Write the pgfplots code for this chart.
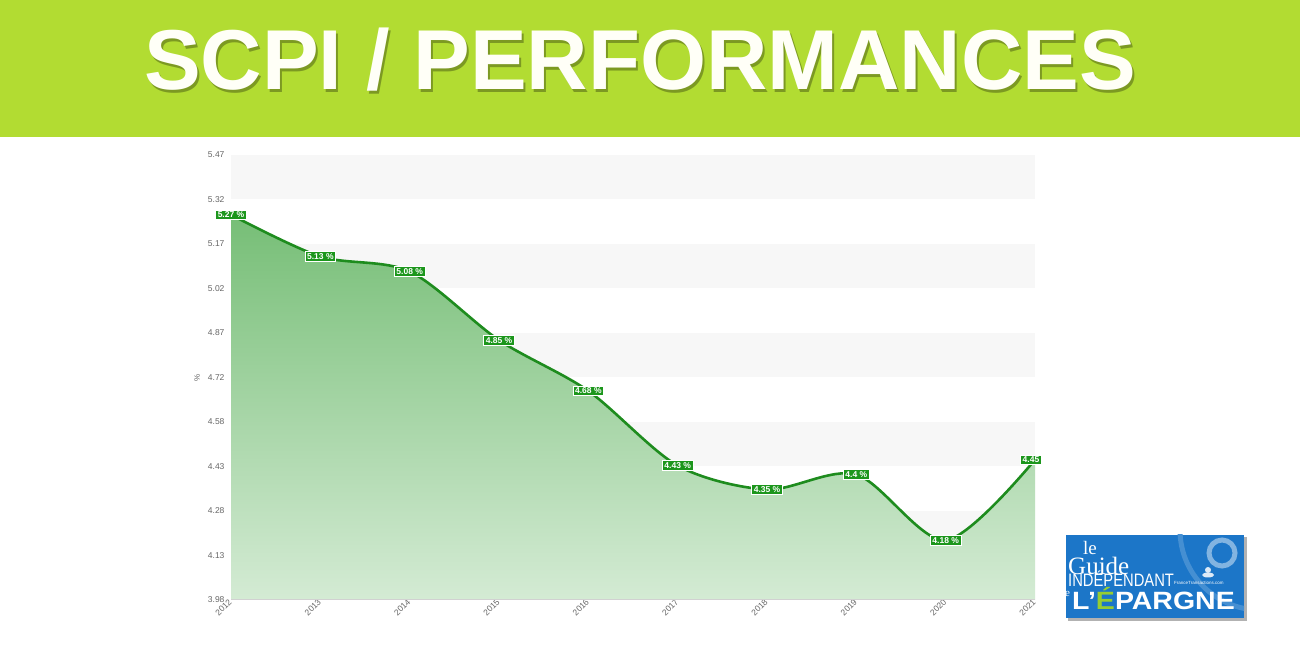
\documentclass[border=0pt]{standalone}
\usepackage{pgfplots}
\pgfplotsset{compat=1.18}
\usepackage{fontspec}
\setmainfont{Liberation Sans}
\newfontfamily\seriff{Liberation Serif}
\definecolor{banner}{RGB}{178,220,50}
\definecolor{linegreen}{RGB}{30,140,30}
\definecolor{boxgreen}{RGB}{28,150,28}
\definecolor{fillTop}{RGB}{118,190,118}
\definecolor{fillBot}{RGB}{212,235,212}
\definecolor{bandgray}{RGB}{247,247,247}
\definecolor{labelgray}{RGB}{102,102,102}
\definecolor{logoblue}{RGB}{28,118,200}
\definecolor{logogreen}{RGB}{150,205,50}
\pgfplotstableread{
x y
0 5.27
1 5.13
2 5.08
3 4.85
4 4.68
5 4.43
6 4.35
7 4.40
8 4.18
9 4.45
}\scpi
\pgfplotstableread{
x y
0 5.27
1 5.13
2 5.08
3 4.85
4 4.68
5 4.43
6 4.35
7 4.40
8 4.18
}\scpilab
\pgfplotstableread{
x y
9 4.45
}\scpilast
\begin{document}
\begin{tikzpicture}[x=1pt,y=1pt]
\fill[white] (0,0) rectangle (1300,650);
\fill[banner] (0,513) rectangle (1300,650);
\node[anchor=base, text=black, opacity=0.3, font=\fontsize{85}{85}\selectfont\bfseries] at (642,557.5) {SCPI / PERFORMANCES};
\node[anchor=base, text=white!97!yellow, font=\fontsize{85}{85}\selectfont\bfseries] at (640,560) {SCPI / PERFORMANCES};
\begin{axis}[
  at={(231pt,50pt)}, anchor=south west,
  scale only axis, width=804pt, height=445pt,
  xmin=0, xmax=9, ymin=3.98, ymax=5.47,
  axis line style={draw=none},
  tick style={draw=none}, major tick length=0pt,
  xtick={0,...,9},
  xticklabels={2012,2013,2014,2015,2016,2017,2018,2019,2020,2021},
  ytick={3.98,4.129,4.278,4.427,4.576,4.725,4.874,5.023,5.172,5.321,5.47},
  yticklabels={3.98,4.13,4.28,4.43,4.58,4.72,4.87,5.02,5.17,5.32,5.47},
  /pgf/number format/assume math mode=true,
  ticklabel style={font=\fontsize{8.5}{9}\selectfont, text=labelgray},
  xticklabel style={rotate=45, anchor=east, inner sep=1pt},
  yticklabel style={xshift=-3pt},
  clip=false,
]
\fill[bandgray] (axis cs:0,5.321) rectangle (axis cs:9,5.47);
\fill[bandgray] (axis cs:0,5.023) rectangle (axis cs:9,5.172);
\fill[bandgray] (axis cs:0,4.725) rectangle (axis cs:9,4.874);
\fill[bandgray] (axis cs:0,4.427) rectangle (axis cs:9,4.576);
\fill[bandgray] (axis cs:0,4.129) rectangle (axis cs:9,4.278);
\addplot[draw=none, top color=fillTop, bottom color=fillBot, smooth, tension=0.5] table[x=x,y=y] {\scpi} -- (axis cs:9,3.98) -- (axis cs:0,3.98) -- cycle;
\draw[black!18, line width=1pt] (axis cs:0,3.98) -- (axis cs:9,3.98);
\addplot[linegreen, line width=2.6pt, smooth, tension=0.5, mark=none] table[x=x,y=y] {\scpi};
\addplot[draw=none, mark=none, point meta=y,
  nodes near coords={\pgfmathprintnumber[fixed,precision=2,assume math mode=true]{\pgfplotspointmeta}~\%},
  every node near coord/.append style={anchor=center, fill=boxgreen, draw=white, line width=0.6pt, text=white, font=\fontsize{8.5}{8.5}\selectfont\bfseries, inner xsep=2.2pt, inner ysep=1.8pt}]
  table[x=x,y=y] {\scpilab};
\addplot[draw=none, mark=none, point meta=y,
  nodes near coords={\pgfmathprintnumber[fixed,precision=2,assume math mode=true]{\pgfplotspointmeta}},
  every node near coord/.append style={anchor=center, xshift=-4pt, fill=boxgreen, draw=white, line width=0.6pt, text=white, font=\fontsize{8.5}{8.5}\selectfont\bfseries, inner xsep=2.2pt, inner ysep=1.8pt}]
  table[x=x,y=y] {\scpilast};
\node[rotate=90, font=\fontsize{8}{8}\selectfont, text=labelgray] at ([xshift=-34pt]rel axis cs:0,0.5) {\%};
\end{axis}
% logo
\fill[black!30] (1068,29) rectangle (1247,113);
\fill[logoblue] (1066,32) rectangle (1244,115);
\begin{scope}
\clip (1066,32) rectangle (1244,115);
\draw[logoblue!82!white, line width=5pt] (1260,120) circle (80);
\draw[logoblue!55!white, line width=5pt] (1222,97) circle (13);
\fill[white!85!logoblue] (1208,75) ellipse (6 and 2.5);
\fill[white!85!logoblue] (1208,80) circle (3);
\end{scope}
\node[anchor=base west, text=white, inner sep=0, font=\seriff\fontsize{19}{19}\selectfont] at (1083,95) {le};
\node[anchor=base west, text=white, inner sep=0, font=\seriff\fontsize{25}{25}\selectfont] at (1068,75) {Guide};
\node[anchor=base west, text=white, inner sep=0, xscale=0.82, font=\fontsize{18}{18}\selectfont] at (1068,63) {INDÉPENDANT};
\node[anchor=base west, text=white, inner sep=0, font=\fontsize{4.5}{5}\selectfont] at (1174,65) {FranceTransactions.com};
\node[anchor=base west, text=white, inner sep=0, font=\seriff\fontsize{11}{11}\selectfont] at (1065,53) {e};
\node[anchor=base west, text=white, inner sep=0, xscale=1.14, font=\fontsize{25}{25}\selectfont\bfseries] at (1072,40) {L'\textcolor{logogreen}{É}PARGNE};
\end{tikzpicture}
\end{document}
